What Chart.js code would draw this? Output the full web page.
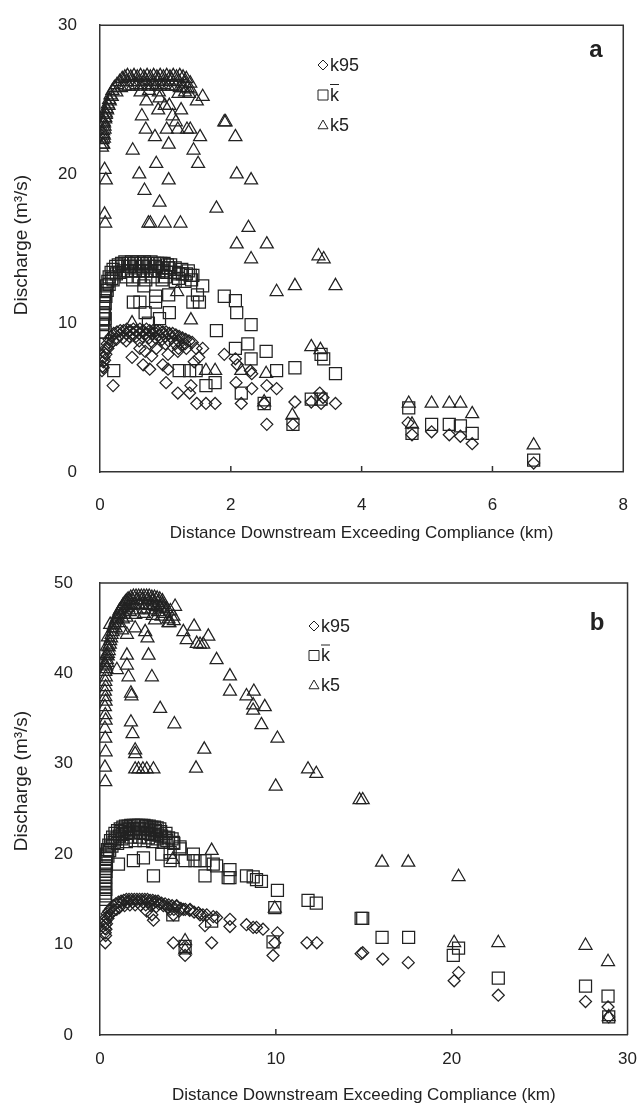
<!DOCTYPE html>
<html>
<head>
<meta charset="utf-8">
<script src="https://cdn.jsdelivr.net/npm/chart.js@4.4.0/dist/chart.umd.min.js"></script>
<style>
  html, body { margin: 0; padding: 0; background: #fff; }
  .panel { position: absolute; left: 0; width: 643px; height: 553px; }
  #wa { top: 0; }
  #wb { top: 553px; }
</style>
</head>
<body>
<div class="panel" id="wa"><canvas id="chartA" width="643" height="553"></canvas></div>
<div class="panel" id="wb"><canvas id="chartB" width="643" height="553"></canvas></div>
<script>
// ---- data: [distance km, discharge m3/s] ----
const seriesLabels = ['k95', 'k\u0304', 'k5'];

// panel a
const aK95 = [
  [0.03,6.8],[0.04,7.1],[0.05,7.4],[0.06,7.7],[0.07,8.0],[0.09,8.3],[0.11,8.6],[0.14,8.9],[0.17,9.1],[0.21,9.3],[0.26,9.4],[0.31,9.5],
  [0.36,9.5],[0.41,9.6],[0.46,9.5],[0.51,9.6],[0.56,9.5],[0.61,9.6],[0.66,9.5],[0.71,9.6],[0.76,9.5],[0.81,9.5],[0.86,9.5],[0.91,9.5],
  [0.96,9.4],[1.01,9.4],[1.06,9.3],[1.11,9.3],[1.16,9.2],[1.21,9.1],[1.26,9.0],[1.31,8.9],[1.36,8.8],[1.41,8.7],
  [0.25,8.9],[0.35,9.0],[0.45,9.1],[0.55,9.1],[0.65,9.1],[0.75,9.0],[0.85,9.0],[0.95,8.9],[1.05,8.8],[1.15,8.6],[1.25,8.5],
  [0.05,7.0],[0.07,7.5],[0.09,7.9],[0.12,8.3],[0.16,8.6],[0.20,8.8],[0.30,9.2],[0.40,9.3],[0.50,9.3],[0.60,9.3],[0.70,9.3],
  [0.80,9.3],[0.90,9.2],[1.00,9.1],[1.10,9.0],[1.20,8.8],[1.30,8.6],[0.40,8.8],[0.60,8.8],[0.80,8.7],[1.00,8.6],[1.20,8.3],
  [0.20,5.8],[0.49,7.7],[0.61,8.3],[0.69,8.1],[0.79,7.8],[0.86,8.3],[1.04,7.9],[1.19,8.1],[1.32,8.3],[1.47,8.3],[1.57,8.3],
  [1.44,7.4],[1.51,7.7],[0.66,7.2],[0.76,6.9],[0.96,7.2],[1.04,6.9],[1.01,6.0],[1.19,5.3],[1.37,5.3],[1.39,5.8],
  [1.48,4.6],[1.62,4.6],[1.76,4.6],[1.90,7.9],[2.07,7.6],[2.10,7.2],[2.30,6.8],[2.32,6.6],[2.08,6.0],[2.32,5.6],
  [2.55,5.8],[2.70,5.6],[2.16,4.6],[2.51,4.6],[2.55,3.2],[2.98,4.7],[2.95,3.2],[3.23,4.7],[3.36,5.3],[3.41,5.0],
  [3.60,4.6],[3.38,4.6],[4.71,3.3],[4.77,2.5],[5.07,2.7],[5.34,2.5],[5.51,2.4],[5.69,1.9],[6.63,0.6]
];
const aKbar = [
  [0.04,9.4],[0.04,9.9],[0.05,10.3],[0.05,10.7],[0.06,11.1],[0.06,11.5],[0.07,11.9],[0.08,12.2],[0.10,12.5],[0.12,12.8],
  [0.14,13.1],[0.17,13.4],[0.20,13.6],[0.24,13.8],[0.28,13.9],
  [0.33,14.0],[0.38,14.1],[0.43,14.0],[0.48,14.1],[0.53,14.0],[0.58,14.1],[0.63,14.0],[0.68,14.1],[0.73,14.0],[0.78,14.1],
  [0.83,14.0],[0.88,14.0],[0.93,14.0],[0.98,14.0],[1.03,13.9],[1.08,13.9],
  [0.30,13.4],[0.36,13.5],[0.42,13.5],[0.48,13.5],[0.54,13.5],[0.60,13.5],[0.66,13.5],[0.72,13.5],[0.78,13.5],[0.84,13.5],
  [0.90,13.5],[0.96,13.5],[1.02,13.4],[1.08,13.4],[1.14,13.4],[1.20,13.3],[1.26,13.3],[1.32,13.3],[1.38,13.2],[1.42,13.2],
  [0.20,12.9],[0.50,12.9],[0.70,12.9],[0.95,12.9],[1.15,12.8],[1.30,12.8],
  [0.06,10.0],[0.07,10.6],[0.08,11.3],[0.09,11.8],[0.11,12.2],[0.14,12.6],[0.18,13.0],[0.25,13.3],[0.35,13.8],[0.45,13.8],
  [0.55,13.8],[0.65,13.8],[0.75,13.8],[0.85,13.8],[0.95,13.7],[1.05,13.7],[1.15,13.7],[1.25,13.6],[1.35,13.5],
  [0.40,13.1],[0.60,13.1],[0.80,13.1],[1.00,13.1],[1.20,13.0],[1.40,12.9],
  [1.57,12.5],[1.90,11.8],[2.07,11.5],[2.09,10.7],[2.31,9.9],[1.78,9.5],[0.67,12.5],[0.85,11.8],[1.05,11.9],[0.69,10.7],
  [0.91,10.3],[1.06,10.7],[0.51,11.4],[0.61,11.4],[0.85,11.4],[1.49,11.9],[1.52,11.4],[1.42,11.4],[0.74,10.0],[0.08,10.3],
  [0.08,9.4],[0.21,6.8],[2.07,8.3],[2.26,8.6],[2.54,8.1],[2.31,7.6],[2.70,6.8],[2.98,7.0],[3.60,6.6],[1.21,6.8],[1.37,6.8],
  [1.47,6.8],[1.62,5.8],[1.76,6.0],[2.16,5.3],[2.51,4.6],[3.23,4.9],[3.38,4.9],[3.38,7.9],[3.42,7.6],[2.95,3.2],[4.72,4.3],
  [4.77,2.6],[5.07,3.2],[5.34,3.2],[5.51,3.1],[5.69,2.6],[6.63,0.8]
];
const aK5 = [
  [0.03,21.8],[0.05,22.0],[0.04,22.3],[0.06,22.6],[0.05,22.9],[0.07,23.2],[0.06,23.5],[0.08,23.8],[0.09,24.1],[0.10,24.4],
  [0.12,24.7],[0.14,25.0],[0.16,25.3],[0.19,25.6],[0.22,25.8],[0.26,26.0],[0.30,26.2],[0.34,26.4],[0.38,26.5],
  [0.42,26.6],[0.47,26.5],[0.52,26.6],[0.57,26.5],[0.62,26.6],[0.67,26.5],[0.72,26.6],[0.77,26.5],[0.82,26.6],[0.87,26.5],
  [0.92,26.6],[0.97,26.5],[1.02,26.6],[1.07,26.5],[1.12,26.6],[1.17,26.5],[1.22,26.6],[1.27,26.5],[1.32,26.4],
  [0.32,25.8],[0.38,25.9],[0.44,25.9],[0.50,25.9],[0.56,26.0],[0.62,25.9],[0.68,26.0],[0.74,25.9],[0.80,26.0],[0.86,25.9],
  [0.92,25.9],[0.98,26.0],[1.04,25.9],[1.10,25.9],[1.16,25.9],[1.22,25.8],[1.28,25.8],[1.34,25.8],[1.38,25.7],
  [0.62,25.5],[0.75,25.6],[0.90,25.5],[1.20,25.4],[1.30,25.5],[1.36,25.4],
  [0.04,22.0],[0.06,22.4],[0.05,22.7],[0.07,23.0],[0.06,23.4],[0.08,23.7],[0.09,24.0],[0.11,24.3],[0.13,24.6],[0.15,24.9],
  [0.18,25.2],[0.25,25.5],[0.40,26.2],[0.50,26.2],[0.60,26.2],[0.70,26.3],[0.80,26.2],[0.90,26.3],[1.00,26.2],[1.10,26.3],
  [1.20,26.2],[1.30,26.1],[1.38,26.1],
  [1.57,25.2],[1.48,24.9],[0.71,24.9],[0.91,25.1],[0.64,23.9],[0.89,24.3],[0.99,24.6],[1.06,24.6],[1.24,24.3],[1.11,23.9],
  [1.16,23.5],[1.19,23.0],[0.70,23.0],[1.02,23.0],[1.33,23.0],[1.38,23.0],[0.84,22.5],[1.53,22.5],[1.90,23.5],[1.92,23.5],
  [2.07,22.5],[0.50,21.6],[1.05,22.0],[1.43,21.6],[0.86,20.7],[1.50,20.7],[0.07,20.3],[0.09,19.6],[0.60,20.0],[1.05,19.6],
  [2.09,20.0],[2.31,19.6],[0.68,18.9],[0.91,18.1],[1.78,17.7],[0.07,17.3],[0.08,16.7],[0.74,16.7],[0.77,16.7],[0.99,16.7],
  [1.23,16.7],[2.27,16.4],[2.09,15.3],[2.55,15.3],[2.31,14.3],[3.34,14.5],[3.42,14.3],[2.70,12.1],[2.98,12.5],[3.60,12.5],
  [1.18,12.1],[1.39,10.2],[0.49,10.0],[3.23,8.4],[3.37,8.2],[1.62,6.8],[1.76,6.8],[2.16,6.8],[2.54,6.6],[2.51,4.7],
  [2.94,3.8],[4.72,4.6],[4.77,3.2],[5.07,4.6],[5.34,4.6],[5.51,4.6],[5.69,3.9],[6.63,1.8]
];

// panel b
const bK95 = [
  [0.30,10.2],[0.30,11.3],[0.28,11.8],[0.30,12.2],[0.32,12.6],[0.35,13.0],
  [0.40,13.4],[0.50,13.7],[0.62,14.0],[0.75,14.3],[0.90,14.5],[1.05,14.7],[1.20,14.8],[1.35,14.9],
  [1.50,15.0],[1.65,15.0],[1.80,15.0],[1.95,15.0],[2.10,15.0],[2.25,15.0],[2.40,15.0],[2.55,15.0],[2.70,15.0],[2.85,14.9],
  [3.00,14.9],[3.15,14.8],[3.30,14.8],
  [3.50,14.6],[3.70,14.5],[3.90,14.4],[4.10,14.3],[4.35,14.2],[4.60,14.0],[4.85,13.9],[5.10,13.8],[5.35,13.6],[5.60,13.5],[5.85,13.3],
  [0.80,13.8],[1.10,14.1],[1.40,14.3],[1.70,14.4],[2.00,14.4],[2.30,14.4],[2.60,14.4],[2.90,14.3],[3.20,14.2],
  [0.32,11.0],[0.34,11.7],[0.37,12.3],[0.45,12.9],[0.55,13.3],[0.70,13.6],[0.95,13.9],[1.25,14.6],[1.55,14.7],[1.85,14.7],
  [2.15,14.7],[2.45,14.7],[2.75,14.7],[3.05,14.6],[3.35,14.5],[3.60,14.3],[3.85,14.1],[4.20,13.9],[4.50,13.7],
  [3.04,12.7],[2.66,13.7],[4.17,10.2],[4.84,8.8],[4.84,9.8],[5.97,12.1],[6.35,10.2],[6.44,13.1],[6.63,13.0],[7.39,12.8],
  [7.39,12.0],[8.33,12.2],[8.71,11.9],[8.90,11.9],[9.27,11.7],[10.09,11.3],[9.94,10.2],[9.84,8.8],[11.77,10.2],[12.33,10.2],
  [14.85,9.0],[14.94,9.1],[16.08,8.4],[17.53,8.0],[20.14,6.0],[20.39,6.9],[22.65,4.4],[27.61,3.7],[28.89,3.1],[28.93,2.0],
  [3.99,13.9],[4.36,14.3],[4.74,13.9],[5.12,13.9],[5.69,13.3],[6.07,13.3],[2.95,13.3],[4.17,13.3]
];
const bKbar = [
  [0.30,15.0],[0.30,15.7],[0.30,16.4],[0.30,17.1],[0.30,17.8],[0.30,18.4],[0.32,19.0],[0.35,19.5],[0.38,20.0],
  [0.42,20.5],[0.50,21.0],[0.60,21.5],[0.72,21.9],[0.85,22.3],[1.00,22.6],[1.15,22.8],[1.30,23.0],
  [1.45,23.1],[1.60,23.1],[1.75,23.2],[1.90,23.2],[2.05,23.2],[2.20,23.2],[2.35,23.2],[2.50,23.2],[2.65,23.1],[2.80,23.1],
  [2.95,23.0],[3.10,23.0],[3.25,22.9],[3.40,22.8],
  [0.90,21.7],[1.10,22.0],[1.30,22.2],[1.50,22.3],[1.70,22.4],[1.90,22.4],[2.10,22.4],[2.30,22.4],[2.50,22.3],[2.70,22.3],
  [2.90,22.2],[3.10,22.2],[3.30,22.1],[3.50,22.0],[3.70,21.9],[3.90,21.8],[4.10,21.7],
  [1.00,21.2],[1.50,21.4],[2.00,21.5],[2.50,21.5],[3.00,21.4],[3.60,21.3],[4.20,21.2],[4.55,20.8],
  [0.32,15.4],[0.33,16.1],[0.32,16.8],[0.33,17.5],[0.34,18.1],[0.36,18.7],[0.45,19.8],[0.55,20.4],[0.68,20.9],[0.80,21.3],
  [1.20,22.5],[1.40,22.7],[1.65,22.8],[1.95,22.8],[2.25,22.8],[2.55,22.8],[2.85,22.7],[3.15,22.6],[3.45,22.5],[3.75,22.3],
  [1.25,21.7],[1.75,21.9],[2.25,21.9],[2.75,21.8],[3.25,21.7],[3.80,21.5],
  [3.04,17.6],[5.97,17.6],[7.39,18.3],[7.39,17.4],[8.33,17.6],[8.71,17.5],[9.18,17.0],[8.90,17.2],[10.09,16.0],[11.83,14.9],
  [12.30,14.6],[14.85,12.9],[14.94,12.9],[16.04,10.8],[17.55,10.8],[9.94,14.1],[4.14,13.3],[6.35,12.6],[4.84,9.8],[9.84,10.3],
  [3.99,19.3],[4.84,19.3],[5.40,19.3],[5.69,19.3],[5.97,19.3],[5.31,20.0],[3.99,20.2],[3.51,20.0],[2.47,19.6],[1.90,19.3],
  [1.05,18.9],[6.44,18.9],[6.63,18.7],[4.55,20.6],[4.17,21.3],[7.29,17.4],[20.09,8.8],[20.39,9.6],[22.65,6.3],[27.61,5.4],
  [28.89,4.3],[28.93,2.0]
];
const bK5 = [
  [0.30,28.0],[0.28,29.6],[0.32,31.3],[0.30,32.8],[0.28,33.9],[0.32,34.8],[0.30,35.4],[0.28,36.3],[0.32,36.9],[0.30,37.4],
  [0.28,38.0],[0.32,38.5],[0.30,39.1],[0.30,40.2],[0.30,41.0],[0.35,42.0],[0.40,43.0],[0.45,44.0],
  [0.35,40.8],[0.40,41.5],[0.45,42.2],[0.50,42.9],[0.58,43.6],[0.66,44.3],[0.75,45.0],[0.85,45.6],[0.95,46.1],[1.05,46.6],
  [1.17,47.1],[1.30,47.5],[1.45,47.9],[1.60,48.2],[1.75,48.4],
  [1.90,48.5],[2.05,48.5],[2.20,48.5],[2.35,48.5],[2.50,48.5],[2.65,48.5],[2.80,48.5],[2.95,48.4],[3.10,48.4],[3.25,48.3],
  [3.40,48.2],[3.55,48.0],
  [1.20,46.5],[1.40,47.0],[1.60,47.3],[1.80,47.5],[2.00,47.6],[2.20,47.6],[2.40,47.6],[2.60,47.6],[2.80,47.5],[3.00,47.5],
  [3.20,47.4],[3.40,47.3],[3.60,47.2],[3.80,47.1],[4.00,46.9],
  [0.90,45.0],[1.10,45.6],[1.50,46.2],[2.00,46.5],[2.50,46.6],[3.00,46.4],[3.50,46.3],[3.90,46.0],[4.20,45.8],
  [0.33,39.6],[0.36,40.5],[0.40,41.2],[0.44,41.9],[0.50,42.5],[0.56,43.2],[0.63,43.9],[0.72,44.6],[0.80,45.3],[0.90,45.9],
  [1.00,46.3],[1.10,46.9],[1.25,47.3],[1.38,47.7],[1.52,48.0],[1.68,48.1],[1.85,48.1],[2.10,48.1],[2.40,48.1],[2.70,48.1],
  [3.00,48.0],[3.30,47.8],[3.55,47.6],[1.30,46.0],[1.70,46.8],[2.10,47.0],[2.50,47.1],[2.90,47.0],[3.30,46.8],[3.70,46.6],
  [1.53,42.0],[1.53,40.9],[1.62,39.6],[1.76,37.8],[1.79,37.5],[1.76,34.6],[1.85,33.3],[2.00,31.5],[2.00,31.1],[2.00,29.4],
  [2.19,29.4],[2.44,29.4],[2.66,29.4],[3.04,29.4],[2.00,45.0],[2.57,44.6],[2.70,43.9],[2.76,42.0],[2.95,39.6],[3.42,36.1],
  [4.23,34.4],[3.13,45.9],[3.89,45.6],[4.27,47.4],[4.17,46.3],[4.74,44.6],[4.93,43.7],[5.35,45.2],[5.50,43.3],[5.69,43.2],
  [5.87,43.2],[6.16,44.1],[5.46,29.5],[5.93,31.6],[6.63,41.5],[7.39,39.7],[7.39,38.0],[8.33,37.5],[8.75,38.0],[8.71,36.5],
  [8.71,35.9],[9.37,36.3],[9.18,34.3],[10.09,32.8],[9.99,27.5],[11.83,29.4],[12.30,28.9],[14.76,26.0],[14.94,26.0],
  [16.04,19.1],[17.53,19.1],[20.39,17.5],[20.14,10.2],[22.65,10.2],[27.61,9.9],[28.89,8.1],[28.93,2.0],[0.58,45.4],
  [1.25,44.8],[1.53,44.3],[0.96,40.4],[3.95,45.6],[6.35,20.4],[4.14,19.4],[9.94,14.0],[4.84,10.4],[4.84,9.4]
];

// axis ticks: min, max, step
const aXTicks = [0, 8, 2];
const aYTicks = [0, 30, 10];
const bXTicks = [0, 30, 10];
const bYTicks = [0, 50, 10];

const xTitle = 'Distance Downstream Exceeding Compliance (km)';
const yTitle = 'Discharge (m\u00B3/s)';

Chart.defaults.font.family = '"Liberation Sans", Arial, sans-serif';
Chart.defaults.color = '#222';

const INK = '#222';

function ds(label, pts, style, r) {
  return {
    label: label,
    data: pts.map(p => ({ x: p[0], y: p[1] })),
    pointStyle: style,
    pointRadius: r,
    pointHoverRadius: r,
    pointBorderColor: INK,
    pointBackgroundColor: 'rgba(0,0,0,0)',
    pointBorderWidth: 1.25,
    showLine: false
  };
}

// frame on top/right, inside x ticks, y title, legend and panel letter
const panelDecor = {
  id: 'panelDecor',
  afterDraw(chart, args, opts) {
    const { ctx, chartArea: a } = chart;
    const x = chart.scales.x;
    ctx.save();
    ctx.strokeStyle = '#333';
    ctx.lineWidth = 1.5;
    ctx.beginPath();
    ctx.moveTo(a.left, a.top);
    ctx.lineTo(a.right, a.top);
    ctx.lineTo(a.right, a.bottom);
    x.ticks.forEach(t => {
      if (t.value > x.min && t.value < x.max) {
        const px = x.getPixelForValue(t.value);
        ctx.moveTo(px, a.bottom);
        ctx.lineTo(px, a.bottom - 6);
      }
    });
    ctx.stroke();

    // y title
    ctx.save();
    ctx.translate(opts.yTitleX, opts.yTitleY);
    ctx.rotate(-Math.PI / 2);
    ctx.font = '19px "Liberation Sans", Arial, sans-serif';
    ctx.fillStyle = INK;
    ctx.textAlign = 'center';
    ctx.textBaseline = 'middle';
    ctx.fillText(yTitle, 0, 0);
    ctx.restore();

    // legend
    ctx.font = '18px "Liberation Sans", Arial, sans-serif';
    ctx.textBaseline = 'middle';
    ctx.fillStyle = INK;
    ctx.strokeStyle = INK;
    ctx.lineWidth = 1;
    chart.data.datasets.forEach((d, i) => {
      const cx = opts.lx, cy = opts.ly + i * opts.gap;
      const s = 5;
      ctx.beginPath();
      if (d.pointStyle === 'rectRot') {
        ctx.moveTo(cx - s, cy); ctx.lineTo(cx, cy - s); ctx.lineTo(cx + s, cy); ctx.lineTo(cx, cy + s); ctx.closePath();
      } else if (d.pointStyle === 'rect') {
        ctx.rect(cx - s, cy - s, 2 * s, 2 * s);
      } else {
        ctx.moveTo(cx, cy - s); ctx.lineTo(cx + s, cy + s * 0.75); ctx.lineTo(cx - s, cy + s * 0.75); ctx.closePath();
      }
      ctx.stroke();
      const txt = d.label.replace('\u0304', '');
      const tx = cx + 7;
      ctx.fillText(txt, tx, cy + 1);
      if (d.label.indexOf('\u0304') >= 0) {
        const w = ctx.measureText(txt).width;
        ctx.beginPath();
        ctx.moveTo(tx, cy - 10.5);
        ctx.lineTo(tx + w, cy - 10.5);
        ctx.stroke();
      }
    });

    ctx.font = 'bold 24px "Liberation Sans", Arial, sans-serif';
    ctx.textAlign = 'center';
    ctx.fillText(opts.letter, opts.letterX, opts.letterY);
    ctx.restore();
  }
};

function makeChart(id, sets, cfg) {
  return new Chart(document.getElementById(id), {
    type: 'scatter',
    data: {
      datasets: [
        ds(seriesLabels[0], sets[0], 'rectRot', 6),
        ds(seriesLabels[1], sets[1], 'rect', 8.5),
        ds(seriesLabels[2], sets[2], 'triangle', 7.5)
      ]
    },
    options: {
      responsive: false,
      animation: false,
      layout: { padding: { left: 0, top: cfg.top, right: cfg.right, bottom: 0 } },
      plugins: {
        legend: { display: false },
        tooltip: { enabled: false },
        panelDecor: cfg.decor
      },
      scales: {
        x: {
          type: 'linear',
          min: cfg.xt[0], max: cfg.xt[1],
          ticks: { stepSize: cfg.xt[2], padding: cfg.xPad, color: INK, font: { size: 17 } },
          grid: { display: false },
          border: { display: true, color: '#333', width: 1.5 },
          title: {
            display: true,
            text: xTitle,
            color: INK,
            font: { size: 17 },
            padding: { top: 0, bottom: cfg.titlePad }
          },
          afterFit: s => { s.height = cfg.xH; }
        },
        y: {
          type: 'linear',
          min: cfg.yt[0], max: cfg.yt[1],
          ticks: { stepSize: cfg.yt[2], padding: cfg.yPad, color: INK, font: { size: 17 } },
          grid: { display: false },
          border: { display: true, color: '#333', width: 1.5 },
          afterFit: s => { s.width = 100; }
        }
      }
    },
    plugins: [panelDecor]
  });
}

makeChart('chartA', [aK95, aKbar, aK5], {
  top: 21, right: 14, xH: 81, xPad: 15, titlePad: 9, yPad: 15,
  xt: aXTicks, yt: aYTicks,
  decor: { lx: 323, ly: 65, gap: 30, letter: 'a', letterX: 596, letterY: 50, yTitleX: 22, yTitleY: 245 }
});

makeChart('chartB', [bK95, bKbar, bK5], {
  top: 30, right: 14, xH: 71, xPad: 6, titlePad: 0, yPad: 19,
  xt: bXTicks, yt: bYTicks,
  decor: { lx: 314, ly: 73, gap: 29.5, letter: 'b', letterX: 597, letterY: 70, yTitleX: 22, yTitleY: 228 }
});
</script>
</body>
</html>
